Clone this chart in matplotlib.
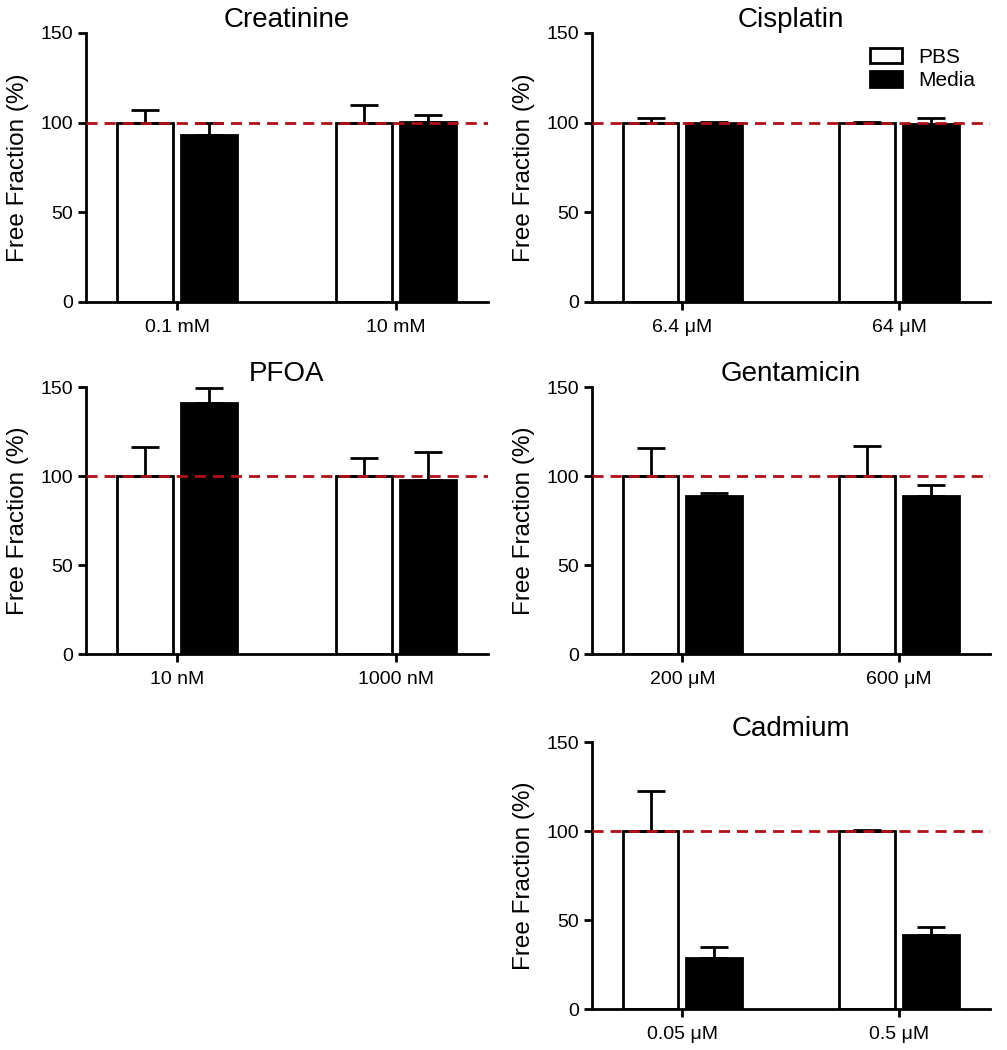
import numpy as np
import matplotlib
matplotlib.use("Agg")
import matplotlib.pyplot as plt
from matplotlib.patches import Patch

plt.rcParams["font.family"] = ["Liberation Sans", "DejaVu Sans"]

titles = ["Creatinine", "Cisplatin", "PFOA", "Gentamicin", "Cadmium"]

conc_labels = [
    ["0.1 mM", "10 mM"],
    ["6.4 \u03bcM", "64 \u03bcM"],
    ["10 nM", "1000 nM"],
    ["200 \u03bcM", "600 \u03bcM"],
    ["0.05 \u03bcM", "0.5 \u03bcM"],
]

pbs_mean = [[100, 100], [100, 100], [100, 100], [100, 100], [100, 100]]
pbs_err = [[7, 10], [2.5, 0.5], [16.5, 10], [16, 17], [22.5, 0.7]]

media_mean = [[93, 100.5], [100, 99], [141, 98], [89, 89], [28.5, 41.5]]
media_err = [[7, 4], [0.3, 3.5], [8.5, 15.5], [1.2, 6], [6.5, 4.5]]

# axes rectangles (left, bottom, width, height) in figure fraction
rects = [
    [0.0854, 0.7124, 0.399, 0.2562],
    [0.5880, 0.7124, 0.395, 0.2562],
    [0.0854, 0.3771, 0.399, 0.2543],
    [0.5880, 0.3771, 0.395, 0.2543],
    [0.5880, 0.0390, 0.395, 0.2543],
]

red = "#b01018"
bw = 0.257
off = 0.147

fig = plt.figure(figsize=(10.07, 10.5), dpi=100)

for i in range(5):
    ax = fig.add_axes(rects[i])
    x = np.arange(2)
    ax.bar(x - off, pbs_mean[i], bw, color="white", edgecolor="black",
           linewidth=2, zorder=2)
    ax.bar(x + off, media_mean[i], bw, color="black", edgecolor="black",
           linewidth=2, zorder=2)
    ax.errorbar(x - off, pbs_mean[i], yerr=[np.zeros(2), pbs_err[i]],
                fmt="none", ecolor="black", elinewidth=2, capsize=10,
                capthick=2, zorder=3)
    ax.errorbar(x + off, media_mean[i], yerr=[np.zeros(2), media_err[i]],
                fmt="none", ecolor="black", elinewidth=2, capsize=10,
                capthick=2, zorder=3)
    ax.axhline(100, color=red, linestyle=(0, (4, 2.5)), linewidth=2, zorder=4)

    ax.set_xlim(-0.417, 1.42)
    ax.set_ylim(0, 150)
    ax.set_yticks([0, 50, 100, 150])
    ax.set_xticks(x)
    ax.set_xticklabels(conc_labels[i])
    ax.spines["top"].set_visible(False)
    ax.spines["right"].set_visible(False)
    ax.spines["left"].set_linewidth(2)
    ax.spines["bottom"].set_linewidth(2)
    ax.tick_params(axis="both", width=2, length=6, labelsize=14)
    ax.tick_params(axis="x", pad=6)
    ax.set_ylabel("Free Fraction (%)", fontsize=17.5, labelpad=8)
    ax.set_title(titles[i], fontsize=20, pad=2)

    if i == 1:
        handles = [Patch(facecolor="white", edgecolor="black", linewidth=2),
                   Patch(facecolor="black", edgecolor="black", linewidth=2)]
        ax.legend(handles, ["PBS", "Media"], loc="upper right",
                  bbox_to_anchor=(1.0, 1.0), frameon=False, fontsize=15,
                  handlelength=1.5, handleheight=0.8, handletextpad=0.8,
                  labelspacing=0.2, borderaxespad=0.3)

fig.savefig("out.png", dpi=100)
